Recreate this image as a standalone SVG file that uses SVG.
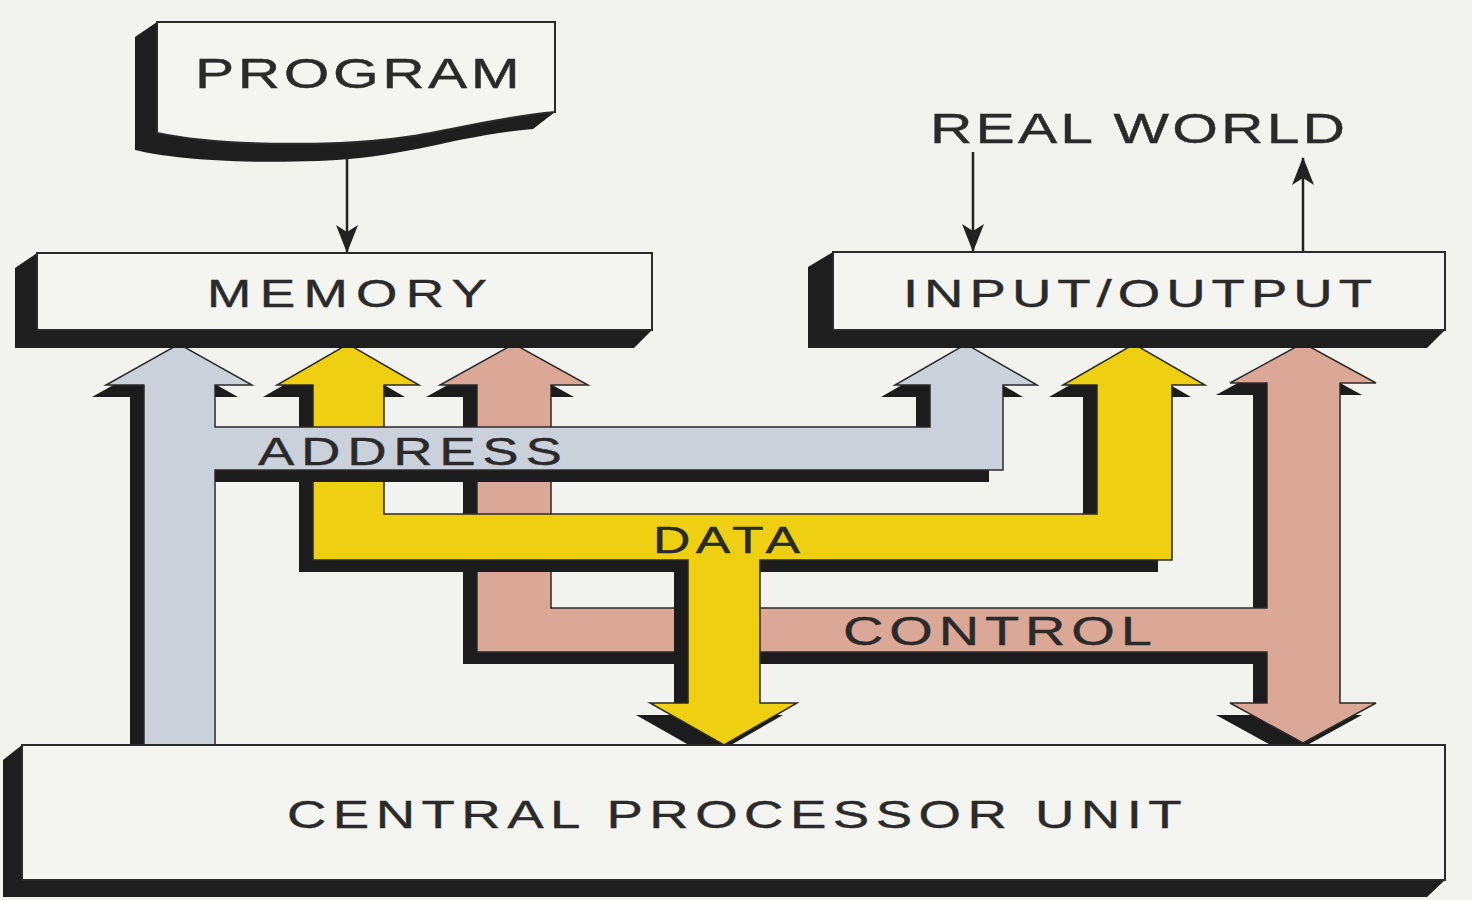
<svg xmlns="http://www.w3.org/2000/svg" xmlns:xlink="http://www.w3.org/1999/xlink" width="1472" height="900" viewBox="0 0 1472 900">
<style>
.bg{fill:#f2f2ee}
.face{fill:#f4f4f0;stroke:#2a2a2a;stroke-width:2}
.ext{fill:#1e1e1e}
.shadow{fill:#1c1c1c}
.addr{fill:#cad1db;stroke:#2a2a2a;stroke-width:1.5;stroke-linejoin:miter}
.data{fill:#eecf12;stroke:#2a2a2a;stroke-width:1.5}
.ctrl{fill:#dba897;stroke:#2a2a2a;stroke-width:1.5}
.lbl{font-family:"Liberation Sans",Arial,sans-serif;fill:#2a2a2a;stroke:#2a2a2a;stroke-width:0.4}
.wire{stroke:#222;stroke-width:2.5;fill:none}
</style>
<defs>
<marker id="ah" viewBox="0 0 28 22" refX="27" refY="11" markerWidth="28" markerHeight="22" markerUnits="userSpaceOnUse" orient="auto">
<path d="M0,0 L28,11 L0,22 L7,11 Z" fill="#222"/>
</marker>
<path id="pAddr" d="M144,745 L144,385 L106,385 L179,344 L252,385 L215,385 L215,427 L930,427 L930,385 L895,385 L966,344 L1037,385 L1003,385 L1003,470 L215,470 L215,745 Z"/>
<path id="pData" d="M313,385 L277,385 L348,344 L419,385 L384,385 L384,514 L1097,514 L1097,385 L1063,385 L1134,344 L1205,385 L1172,385 L1172,560 L760,560 L760,703 L797,703 L724,745 L650,703 L688,703 L688,560 L313,560 Z"/>
<path id="pCtrl" d="M477,385 L440,385 L514,344 L588,385 L551,385 L551,608 L1267,608 L1267,383 L1230,383 L1303,343 L1376,383 L1340,383 L1340,703 L1376,703 L1303,743 L1230,703 L1267,703 L1267,652 L477,652 Z"/>
</defs>
<rect class="bg" x="0" y="0" width="1472" height="900"/>

<g id="connectors">
  <g id="bus-control">
    <use xlink:href="#pCtrl" href="#pCtrl" class="shadow" transform="translate(-14,12)"/>
    <use xlink:href="#pCtrl" href="#pCtrl" class="ctrl"/>
    <text class="lbl" font-size="40" transform="scale(1.4,1)" x="602.1" y="645" textLength="220.7" lengthAdjust="spacing">CONTROL</text>
  </g>
  <g id="bus-data">
    <use xlink:href="#pData" href="#pData" class="shadow" transform="translate(-14,12)"/>
    <use xlink:href="#pData" href="#pData" class="data"/>
    <text class="lbl" font-size="37" transform="scale(1.4,1)" x="466.4" y="553" textLength="105" lengthAdjust="spacing">DATA</text>
  </g>
  <g id="bus-address">
    <use xlink:href="#pAddr" href="#pAddr" class="shadow" transform="translate(-14,12)"/>
    <use xlink:href="#pAddr" href="#pAddr" class="addr"/>
    <text class="lbl" font-size="39" transform="scale(1.4,1)" x="184.3" y="465" textLength="217" lengthAdjust="spacing">ADDRESS</text>
  </g>
  <line id="edge-program-memory" class="wire" x1="347" y1="158" x2="347" y2="252" marker-end="url(#ah)"/>
  <line id="edge-world-io" class="wire" x1="973" y1="152" x2="973" y2="251" marker-end="url(#ah)"/>
  <line id="edge-io-world" class="wire" x1="1303" y1="251" x2="1303" y2="158" marker-end="url(#ah)"/>
</g>

<g id="node-program">
  <path class="ext" d="M157,22 L135,37 L135,150 C168,158 228,164 318,161 C408,158 448,137 533,129 L555,112 L555,22 Z"/>
  <path class="face" d="M157,22 L555,22 L555,112 C470,120 430,140 340,143 C250,146 190,140 157,133 Z"/>
  <text class="lbl" font-size="42" transform="scale(1.4,1)" x="139.3" y="88" textLength="232" lengthAdjust="spacing">PROGRAM</text>
</g>

<g id="node-memory">
  <polygon class="ext" points="37,253 15,268 15,348 634,348 652,330 652,253"/>
  <rect class="face" x="37" y="253" width="615" height="77"/>
  <text class="lbl" font-size="38" transform="scale(1.4,1)" x="147.9" y="307" textLength="200" lengthAdjust="spacing">MEMORY</text>
</g>

<g id="node-io">
  <polygon class="ext" points="833,252 808,267 808,348 1427,348 1445,330 1445,252"/>
  <rect class="face" x="833" y="252" width="612" height="78"/>
  <text class="lbl" font-size="39" transform="scale(1.4,1)" x="645" y="307" textLength="335" lengthAdjust="spacing">INPUT/OUTPUT</text>
</g>

<g id="node-realworld">
  <text class="lbl" font-size="42" transform="scale(1.4,1)" x="664.3" y="143" textLength="296.4" lengthAdjust="spacing">REAL WORLD</text>
</g>

<g id="node-cpu">
  <polygon class="ext" points="22,745 3,760 3,897 1427,897 1445,880 1445,745"/>
  <rect class="face" x="22" y="745" width="1423" height="135"/>
  <text class="lbl" font-size="39" transform="scale(1.4,1)" x="205" y="828" textLength="639" lengthAdjust="spacing">CENTRAL PROCESSOR UNIT</text>
</g>
</svg>
